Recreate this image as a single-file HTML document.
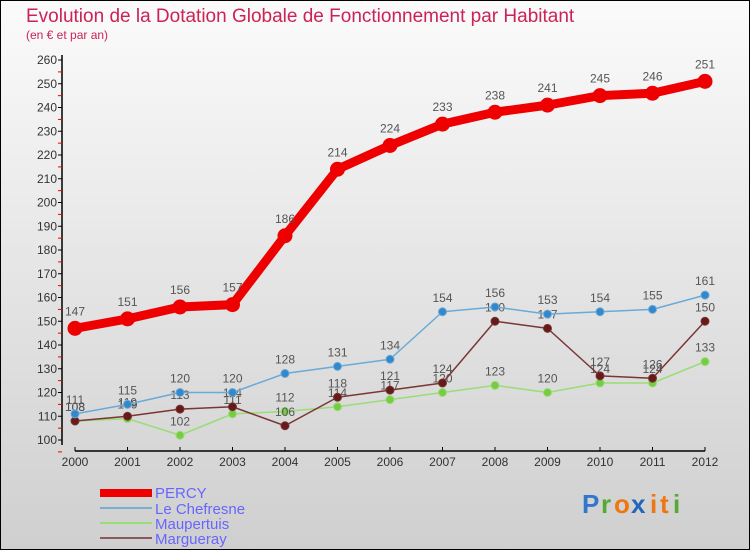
<!DOCTYPE html>
<html><head><meta charset="utf-8"><style>
body{margin:0}
#c{width:750px;height:550px;position:relative;font-family:"Liberation Sans",sans-serif}
</style></head><body>
<div id="c">
<svg id="s" width="750" height="550" xmlns="http://www.w3.org/2000/svg">
<defs><linearGradient id="bg" x1="0" y1="0" x2="0" y2="1"><stop offset="0" stop-color="#fbfbfb"/><stop offset="1" stop-color="#cfcfcf"/></linearGradient></defs>
<rect x="0.5" y="0.5" width="749" height="549" fill="url(#bg)" stroke="#000"/>
<text x="26" y="22" font-size="19" fill="#cc2255">Evolution de la Dotation Globale de Fonctionnement par Habitant</text>
<text x="26" y="39" font-size="12" fill="#cc2255">(en € et par an)</text>
<g id="axes"></g><g id="series"></g>
<g>
<rect x="100" y="489" width="52" height="8" fill="#ee0000"/>
<text x="155" y="498" font-size="15" fill="#6666ff">PERCY</text>
<rect x="100" y="507" width="52" height="2" fill="#7aaed0"/>
<text x="155" y="514" font-size="15" fill="#6666ff">Le Chefresne</text>
<rect x="100" y="522" width="52" height="2" fill="#99dd77"/>
<text x="155" y="529" font-size="15" fill="#6666ff">Maupertuis</text>
<rect x="100" y="537" width="52" height="2" fill="#8a5a5a"/>
<text x="155" y="544" font-size="15" fill="#6666ff">Margueray</text>
</g>
<g font-size="26" font-weight="bold">
<text x="582" y="513" fill="#3377cc">P</text><text x="601" y="513" fill="#55aa33">r</text><text x="614" y="513" fill="#ee7711">o</text><text x="631" y="513" fill="#2266bb">x</text><text x="650" y="513" fill="#ee7711">i</text><text x="660" y="513" fill="#ee7711">t</text><text x="673" y="513" fill="#55aa33">i</text>
</g>
</svg></div>
<script>
const years=["2000","2001","2002","2003","2004","2005","2006","2007","2008","2009","2010","2011","2012"];
const percy=[147,151,156,157,186,214,224,233,238,241,245,246,251];
const chefresne=[111,115,120,120,128,131,134,154,156,153,154,155,161];
const maupertuis=[108,109,102,111,112,114,117,120,123,120,124,124,133];
const margueray=[108,110,113,114,106,118,121,124,150,147,127,126,150];
const yTicks=[100,110,120,130,140,150,160,170,180,190,200,210,220,230,240,250,260];
const NS="http://www.w3.org/2000/svg";
const xs=i=>75+i*52.5, ys=v=>440-(v-100)*2.375;
function mk(t,a,p){const e=document.createElementNS(NS,t);for(const k in a)e.setAttribute(k,a[k]);p.appendChild(e);return e;}
const ax=document.getElementById('axes');
const yl=mk('line',{x1:62,y1:55,x2:62,y2:445,stroke:'#000','stroke-width':1.5},ax);


yTicks.forEach(v=>{
 const y=ys(v);
 mk('line',{x1:58,y1:y,x2:62,y2:y,stroke:'#000'},ax);
 mk('line',{x1:58,y1:y+11.9,x2:62,y2:y+11.9,stroke:'#e00'},ax);
 const t=mk('text',{x:57,y:y+4,'font-size':12,'text-anchor':'end',fill:'#333'},ax);
 
 
 t.textContent=v;
});
const xl=mk('line',{x1:75,y1:451,x2:705,y2:451,stroke:'#000','stroke-width':1.5},ax);


years.forEach((yr,i)=>{
 mk('line',{x1:xs(i),y1:447,x2:xs(i),y2:451,stroke:'#000'},ax);
 const t=mk('text',{x:xs(i),y:466,'font-size':12,'text-anchor':'middle',fill:'#333'},ax);
 
 
 t.textContent=yr;
});
const sg=document.getElementById('series');
function draw(arr,name,col,dot,w,r){
 const g=mk('g',{},sg);
 
 
 const pl=mk('polyline',{points:arr.map((v,i)=>xs(i)+','+ys(v)).join(' '),fill:'none',stroke:col,'stroke-width':w,'stroke-linejoin':'round'},g);
 
 
 arr.forEach((v,i)=>{
  const c=mk('circle',{cx:xs(i),cy:ys(v),r:r,fill:dot,stroke:col,'stroke-width':1},g);
  
  
  const t=mk('text',{x:xs(i),y:ys(v)-(r+6),'font-size':12,'text-anchor':'middle',fill:'#555'},g);
  
  
  t.textContent=v;
 });
}
draw(maupertuis,'maupertuis','#99dd77','#77cc44',1.5,4);
draw(margueray,'margueray','#7a3535','#661a1a',1.5,4);
draw(chefresne,'chefresne','#6aaad8','#3388cc',1.5,4);
draw(percy,'percy','#ee0000','#ee0000',9,7);
</script>
</body></html>
